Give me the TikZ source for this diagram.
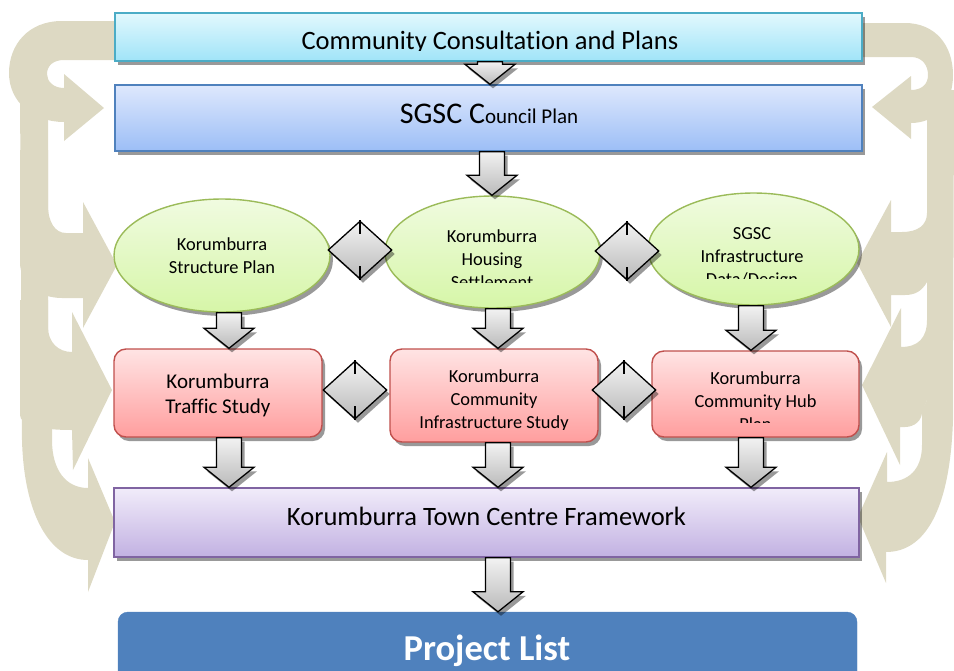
\documentclass[tikz,border=0pt]{standalone}
\usepackage{fontspec}
\setmainfont[Ligatures={NoCommon}]{Carlito}
\usetikzlibrary{shapes.geometric,shadows,calc}

\definecolor{beige}{RGB}{221,217,195}
\definecolor{consTop}{RGB}{226,248,253}
\definecolor{consBot}{RGB}{160,228,248}
\definecolor{consLine}{RGB}{75,172,198}
\definecolor{planTop}{RGB}{222,232,253}
\definecolor{planBot}{RGB}{156,190,246}
\definecolor{planLine}{RGB}{79,129,189}
\definecolor{ellTop}{RGB}{240,251,224}
\definecolor{ellBot}{RGB}{214,246,168}
\definecolor{ellLine}{RGB}{155,187,89}
\definecolor{redTop}{RGB}{255,228,228}
\definecolor{redBot}{RGB}{255,158,158}
\definecolor{redLine}{RGB}{192,80,77}
\definecolor{purTop}{RGB}{241,236,250}
\definecolor{purBot}{RGB}{194,177,226}
\definecolor{purLine}{RGB}{128,100,162}
\definecolor{projBlue}{RGB}{79,129,189}
\definecolor{arrTop}{RGB}{242,242,242}
\definecolor{arrBot}{RGB}{186,186,186}

\tikzset{
  shad/.style={drop shadow={shadow xshift=3pt,shadow yshift=-4pt,opacity=.4,fill=black}},
  flowbox/.style={rectangle,inner sep=0pt,line width=1.4pt,shad},
  consbox/.style={flowbox,top color=consTop,bottom color=consBot,draw=consLine},
  planbox/.style={flowbox,top color=planTop,bottom color=planBot,draw=planLine},
  studybox/.style={flowbox,rounded corners=12pt,top color=redTop,bottom color=redBot,draw=redLine},
  framebox/.style={flowbox,top color=purTop,bottom color=purBot,draw=purLine},
  planell/.style={ellipse,inner sep=0pt,line width=1.4pt,shad,top color=ellTop,bottom color=ellBot,draw=ellLine},
  updown/.style={diamond,inner sep=0pt,minimum width=64pt,minimum height=58pt,line width=1.3pt,
    top color=arrTop,bottom color=arrBot,draw=black,shad},
  blockarrow/.style={top color=arrTop,bottom color=arrBot,draw=black,line width=1.3pt,shad},
  bigtext/.style={font=\fontsize{26.5}{30}\selectfont,anchor=base,inner sep=0pt},
  smalltext/.style={font=\fontsize{18.4}{23}\selectfont,align=center,anchor=base,inner sep=0pt},
}

% block arrow straight down at x=#1 from node #2 to node #3
\newcommand{\blockdown}[3]{%
  \draw[blockarrow] let \p1=(#2.south), \p2=(#3.north) in
    (#1pt-12.5pt,\y1) -- (#1pt+12.5pt,\y1) -- (#1pt+12.5pt,\y2+20pt) -- (#1pt+25pt,\y2+20pt)
    -- (#1pt,\y2) -- (#1pt-25pt,\y2+20pt) -- (#1pt-12.5pt,\y2+20pt) -- cycle;}

\begin{document}
\begin{tikzpicture}[x=1pt,y=-1pt]
\useasboundingbox (0,0) rectangle (954,670);
\clip (0,0) rectangle (954,670);

% feedback arrows, left
\fill[beige] (117,21) -- (62,21) .. controls (28,21) and (9,45) .. (9,73) .. controls (9,102) and (33,122) .. (64,122)
  -- (64,141) -- (104,108) -- (64,74) -- (64,88) .. controls (53,88) and (47,81) .. (47,74)
  .. controls (47,66) and (53,60) .. (64,60) -- (117,60) -- cycle;
\fill[beige] (20,150) -- (20,262) .. controls (20,285) and (40,298) .. (62,298) -- (83,298) -- (83,328) -- (117,265)
  -- (83,202) -- (83,233) -- (66,233) .. controls (55,233) and (48,222) .. (48,205) -- (48,150) -- cycle;
\fill[beige] (20,300) -- (20,415) .. controls (20,425) and (40,430) .. (72,430) -- (73,470) -- (112,390) -- (72,312)
  -- (72,352) .. controls (58,352) and (48,342) .. (48,327) -- (48,300) -- cycle;
\fill[beige] (20,90) -- (22,440) .. controls (24,515) and (50,560) .. (88,560) -- (88,592) -- (115,522) -- (88,458)
  -- (88,488) .. controls (66,488) and (52,470) .. (52,440) -- (52,400) -- (48,400) -- (48,90) -- cycle;

% feedback arrows, right
\fill[beige] (860,23) -- (905,23) .. controls (935,23) and (953,45) .. (953,75) .. controls (953,105) and (935,123) .. (911,123)
  -- (911,139) -- (872,107) -- (911,76) -- (911,90) .. controls (922,90) and (928,84) .. (928,75)
  .. controls (928,65) and (922,57) .. (911,57) -- (860,57) -- cycle;
\fill[beige] (927,150) -- (927,282) .. controls (922,291) and (915,295) .. (905,295) -- (891,295) -- (891,327) -- (857,263)
  -- (891,200) -- (891,232) -- (902,232) .. controls (918,232) and (927,225) .. (927,213) -- cycle;
\fill[beige] (927,320) .. controls (927,338) and (918,347) .. (901,347) -- (901,308) -- (862,385) -- (900,465)
  -- (900,427) -- (905,427) .. controls (915,427) and (922,420) .. (922,412) -- (927,400) -- cycle;
\fill[beige] (927,90) -- (954,90) -- (953,420) .. controls (950,510) and (925,552) .. (886,552) -- (886,583) -- (858,517)
  -- (887,452) -- (887,482) .. controls (908,482) and (922,470) .. (922,445) -- (922,410) -- (927,400) -- cycle;

% boxes
\node[consbox,minimum width=747pt,minimum height=48pt] (cons) at (488.5,37) {};
\begin{scope}
\clip (115,13) rectangle (862,50);
\node[bigtext] (consT) at (490,49) {Community Consultation and Plans};
\end{scope}

\node[planbox,minimum width=747pt,minimum height=66pt] (cplan) at (488.5,118) {};
\node[anchor=base,inner sep=0pt] (cplanT) at (489,123)
  {{\fontsize{30}{36}\selectfont SGSC C}{\fontsize{21}{25}\selectfont ouncil Plan}};

\node[planell,minimum width=216pt,minimum height=113pt] (strP) at (222,255.5) {};
\node[smalltext] (strT) at (222,273.5) {Korumburra\\Structure Plan};

\node[planell,minimum width=215pt,minimum height=112pt] (houP) at (492.5,252) {};
\begin{scope}
\clip (385,196) rectangle (600,282);
\node[smalltext] (houT) at (492,288) {Korumburra\\Housing\\Settlement};
\end{scope}

\node[planell,minimum width=211pt,minimum height=112pt] (infD) at (753.5,249) {};
\begin{scope}
\clip (648,193) rectangle (859,278);
\node[smalltext] (infT) at (752,285) {SGSC\\Infrastructure\\Data/Design};
\end{scope}

\node[studybox,minimum width=208pt,minimum height=88pt] (trafS) at (218,393) {};
\node[smalltext,font=\fontsize{21}{25}\selectfont] (trafT) at (218,413) {Korumburra\\Traffic Study};

\node[studybox,minimum width=208pt,minimum height=93pt] (cinfS) at (494,395.5) {};
\begin{scope}
\clip (390,349) rectangle (598,429);
\node[smalltext] (cinfT) at (494,428) {Korumburra\\Community\\Infrastructure Study};
\end{scope}

\node[studybox,minimum width=207pt,minimum height=86pt] (hubP) at (755.5,394) {};
\begin{scope}
\clip (652,351) rectangle (859,422);
\node[smalltext] (hubT) at (755.5,430) {Korumburra\\Community Hub\\Plan};
\end{scope}

\node[framebox,minimum width=745pt,minimum height=69pt] (tcf) at (486.5,522.5) {};
\node[bigtext] (tcfT) at (486.5,525) {Korumburra Town Centre Framework};

\node[rectangle,rounded corners=10pt,fill=projBlue,draw=projBlue,minimum width=739pt,minimum height=80pt] (proj) at (487.5,652) {};
\node[anchor=base,inner sep=0pt,text=white,font=\fontsize{36.5}{40}\selectfont\bfseries] (projT) at (487,660) {Project List};

% links between plans
\node[updown] (d1) at (360,250) {};
\node[updown] (d2) at (627,251) {};
\node[updown] (d3) at (355,390) {};
\node[updown] (d4) at (624,390) {};
\foreach \d in {d1,d2,d3,d4}{
  \draw[line width=1.3pt] (\d.north) -- ++(0,14);
  \draw[line width=1.3pt] (\d.south) -- ++(0,-14);
}

% flow
\blockdown{490}{cons}{cplan}
\blockdown{492}{cplan}{houP}
\blockdown{229}{strP}{trafS}
\blockdown{498}{houP}{cinfS}
\blockdown{751}{infD}{hubP}
\blockdown{229}{trafS}{tcf}
\blockdown{498}{cinfS}{tcf}
\blockdown{751}{hubP}{tcf}
\blockdown{498}{tcf}{proj}
\end{tikzpicture}
\end{document}
